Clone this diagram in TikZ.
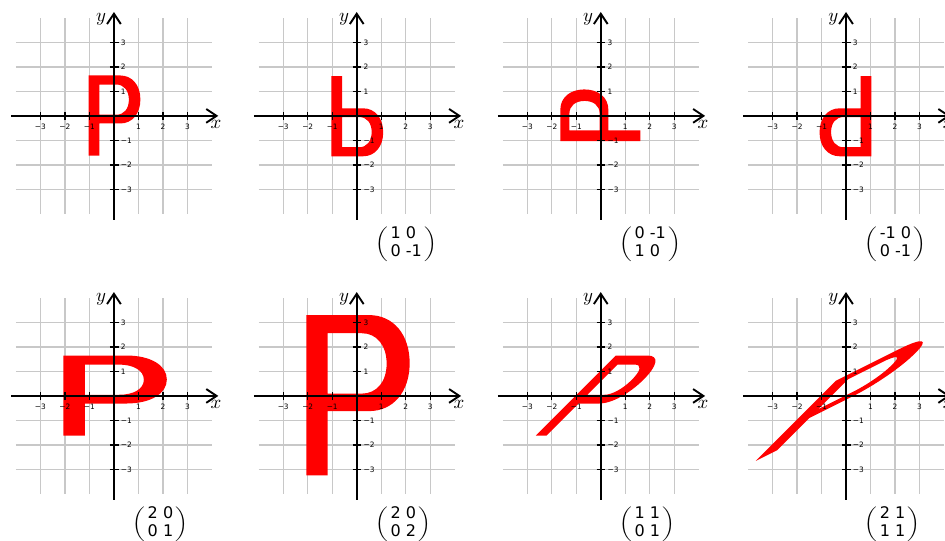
\documentclass[tikz,border=0pt]{standalone}
\usepackage{fontspec}
\usepackage{graphicx}
\setmainfont{DejaVu Sans}
\usetikzlibrary{arrows.meta}
\definecolor{gridgray}{RGB}{200,200,200}
\definecolor{letterred}{RGB}{255,0,0}

\tikzset{
  gridline/.style={gridgray, line width=0.8pt},
  axisline/.style={line width=1.1pt, -{Straight Barb[length=6pt,width=8pt]}},
  tickmark/.style={line width=0.8pt},
  ticklabel/.style={font=\fontsize{4.3}{5}\selectfont, inner sep=0pt},
  axislabel/.style={font=\fontsize{10.5}{12}\selectfont, inner sep=0pt},
  matlabel/.style={font=\fontsize{9.3}{10.3}\selectfont, anchor=west, inner sep=0pt},
}

\begin{document}
\begin{tikzpicture}[x=0.5cm,y=0.5cm]
  \useasboundingbox (-4.65,-17.35) rectangle (33.92,4.73);
  % one panel per matrix: origin, then m11/m12/m21/m22
  \foreach \px/\py/\ma/\mb/\mc/\md [count=\k] in {0/0/1/0/0/1, 9.91/0/1/0/0/-1, 19.87/0/0/-1/1/0, 29.88/0/-1/0/0/-1,
      0/-11.43/2/0/0/1, 9.91/-11.43/2/0/0/2, 19.87/-11.43/1/1/0/1, 29.88/-11.43/2/1/1/1} {
    \begin{scope}[shift={(\px,\py)}]
      % grid
      \foreach \i in {-3,...,3} {
        \draw[gridline] (-4,\i) -- (4,\i);
        \draw[gridline] (\i,-4) -- (\i,4);
      }
      % the letter under the matrix
      \begin{scope}[cm={\ma,\mc,\mb,\md,(0,0)}]
        \fill[letterred, even odd rule]
          (-1.03,-1.62) -- (-1.03,1.65) -- (0.25,1.65)
          .. controls (0.75,1.65) and (1.08,1.25) .. (1.08,0.67)
          .. controls (1.08,0.09) and (0.75,-0.31) .. (0.25,-0.31)
          -- (-0.595,-0.31) -- (-0.595,-1.62) -- cycle
          (-0.595,1.28) -- (0.1,1.28)
          .. controls (0.41,1.28) and (0.61,1.03) .. (0.61,0.66)
          .. controls (0.61,0.29) and (0.41,0.047) .. (0.1,0.047)
          -- (-0.595,0.047) -- cycle;
      \end{scope}
      % axes
      \coordinate (xs\k) at (-4.2,0);
      \coordinate (xe\k) at (4.26,0);
      \coordinate (ys\k) at (0,-4.24);
      \coordinate (ye\k) at (0,4.24);
      \draw[axisline] (xs\k) -- (xe\k);
      \draw[axisline] (ys\k) -- (ye\k);
      \node[axislabel] (xl\k) at (4.17,-0.35) {$x$};
      \node[axislabel] (yl\k) at (-0.52,3.94) {$y$};
      % ticks
      \foreach \i/\t in {-3/−3,-2/−2,-1/−1,1/1,2/2,3/3} {
        \draw[tickmark] (\i,-0.17) -- (\i,0.17);
        \draw[tickmark] (-0.17,\i) -- (0.19,\i);
        \node[ticklabel] (xt\k\i) at (\i,-0.46) {\t};
        \node[ticklabel, anchor=west] (yt\k\i) at (0.27,\i) {\t};
      }
      \ifnum\k>1
        \node[matlabel] (mat\k) at (0.75,-5.24)
          {$\vcenter{\hbox{\scalebox{1}[0.84]{$\biggl($}}}\vcenter{\hbox{\begin{tabular}{@{\hspace{1.4pt}}l@{\hspace{1.4pt}}}\ma{} \mb\\\mc{} \md\end{tabular}}}\vcenter{\hbox{\scalebox{1}[0.84]{$\biggr)$}}}$};
      \fi
    \end{scope}
  }
\end{tikzpicture}
\end{document}
